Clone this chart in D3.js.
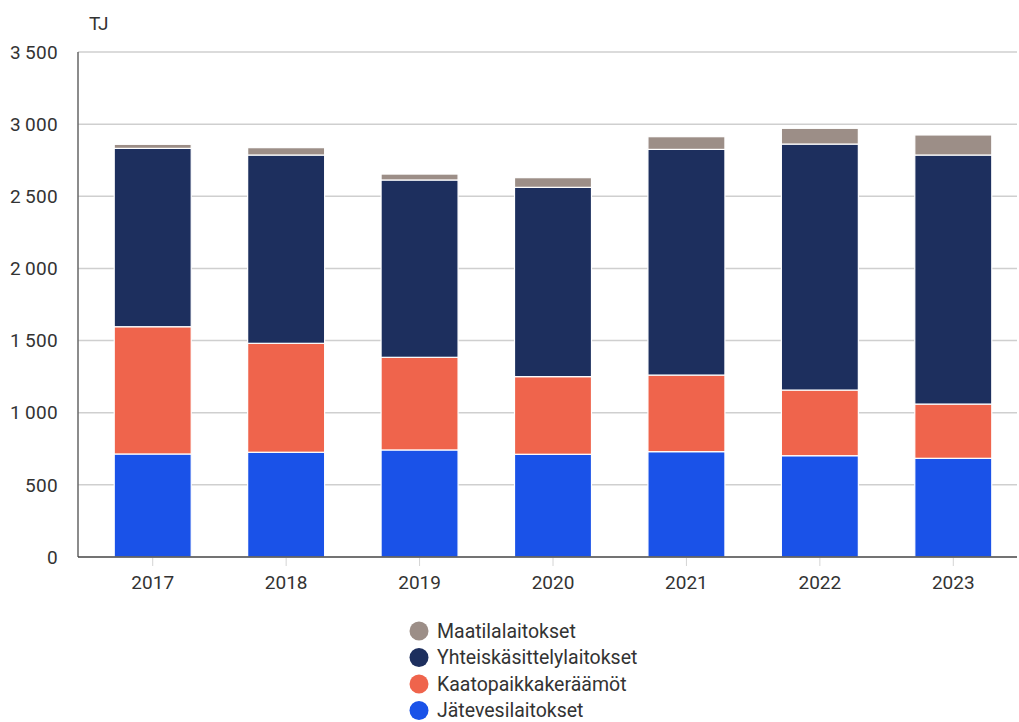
<!DOCTYPE html>
<html>
<head>
<meta charset="utf-8">
<script src="https://cdn.jsdelivr.net/npm/d3@7"></script>
<style>
  body { margin: 0; background: #fff; }
  svg { display: block; font-family: Roboto, "DejaVu Sans Condensed", sans-serif; }
</style>
</head>
<body>
<svg id="chart" width="1019" height="722"></svg>
<script>
// Energy production by plant type, TJ
const years = ["2017", "2018", "2019", "2020", "2021", "2022", "2023"];
const seriesNames = ["Jätevesilaitokset", "Kaatopaikkakeräämöt", "Yhteiskäsittelylaitokset", "Maatilalaitokset"];
const jatevesi = [714, 726, 742, 712, 730, 702, 684];
const kaatopaikka = [882, 755, 642, 538, 531, 455, 376];
const yhteiskasittely = [1236, 1305, 1229, 1312, 1564, 1705, 1726];
const maatila = [28, 51, 41, 67, 88, 109, 139];
const yTicks = [0, 500, 1000, 1500, 2000, 2500, 3000, 3500];
const colors = ["#1a52e8", "#ef644c", "#1d2f5e", "#9c8e87"];

const rows = years.map((y, i) => ({
  year: y,
  "Jätevesilaitokset": jatevesi[i],
  "Kaatopaikkakeräämöt": kaatopaikka[i],
  "Yhteiskäsittelylaitokset": yhteiskasittely[i],
  "Maatilalaitokset": maatila[i]
}));

const svg = d3.select("#chart");
const plotLeft = 78, plotRight = 1017, plotTop = 52, plotBottom = 557;

const x = d3.scaleBand().domain(years).range([86, 1020]).paddingInner(0.423).paddingOuter(0.2115);
const y = d3.scaleLinear().domain([0, 3500]).range([plotBottom, plotTop]);
const color = d3.scaleOrdinal().domain(seriesNames).range(colors);

const fmt = v => d3.format(",")(v).replace(/,/g, "\u2009");

// gridlines
svg.append("g")
  .selectAll("line")
  .data(yTicks.filter(d => d > 0))
  .join("line")
  .attr("x1", plotLeft).attr("x2", plotRight)
  .attr("y1", d => y(d)).attr("y2", d => y(d))
  .attr("stroke", "#cfcfcf").attr("stroke-width", 1.5);

// y tick labels
svg.append("g")
  .selectAll("text")
  .data(yTicks)
  .join("text")
  .attr("x", 58)
  .attr("y", d => y(d))
  .attr("dy", "0.35em")
  .attr("text-anchor", "end")
  .attr("font-size", 19)
  .attr("letter-spacing", "0.3px")
  .attr("fill", "#333")
  .text(fmt);

// unit label
svg.append("text")
  .attr("x", 89).attr("y", 30)
  .attr("font-size", 19).attr("fill", "#333")
  .text("TJ");

// stacked bars
const stacked = d3.stack().keys(seriesNames)(rows);
svg.append("g")
  .selectAll("g")
  .data(stacked)
  .join("g")
  .attr("fill", d => color(d.key))
  .selectAll("rect")
  .data(d => d)
  .join("rect")
  .attr("x", d => x(d.data.year))
  .attr("width", x.bandwidth())
  .attr("y", d => y(d[1]))
  .attr("height", d => y(d[0]) - y(d[1]))
  .attr("stroke", "#fff")
  .attr("stroke-width", 1.2);

// x axis
const xAxis = svg.append("g").attr("transform", `translate(0,${plotBottom})`);
xAxis.selectAll("line.tick")
  .data(years)
  .join("line")
  .attr("class", "tick")
  .attr("x1", d => x(d) + x.bandwidth() / 2)
  .attr("x2", d => x(d) + x.bandwidth() / 2)
  .attr("y1", 1).attr("y2", 9)
  .attr("stroke", "#d4d4d4");
xAxis.selectAll("text")
  .data(years)
  .join("text")
  .attr("x", d => x(d) + x.bandwidth() / 2)
  .attr("y", 25)
  .attr("dy", "0.35em")
  .attr("text-anchor", "middle")
  .attr("font-size", 19)
  .attr("fill", "#333")
  .text(d => d);

// axis lines
svg.append("line")
  .attr("x1", plotLeft).attr("x2", plotLeft)
  .attr("y1", plotTop).attr("y2", plotBottom)
  .attr("stroke", "#666").attr("stroke-width", 1.5);
svg.append("line")
  .attr("x1", plotLeft).attr("x2", plotRight)
  .attr("y1", plotBottom).attr("y2", plotBottom)
  .attr("stroke", "#444").attr("stroke-width", 1.5);

// legend (top series first)
const legendOrder = seriesNames.slice().reverse();
const legend = svg.append("g")
  .selectAll("g")
  .data(legendOrder)
  .join("g")
  .attr("transform", (d, i) => `translate(419,${631 + i * 26.5})`);
legend.append("circle")
  .attr("r", 9.5)
  .attr("fill", d => color(d));
legend.append("text")
  .attr("x", 18)
  .attr("dy", "0.35em")
  .attr("font-size", 19.5)
  .attr("fill", "#333")
  .text(d => d);
</script>
</body>
</html>
